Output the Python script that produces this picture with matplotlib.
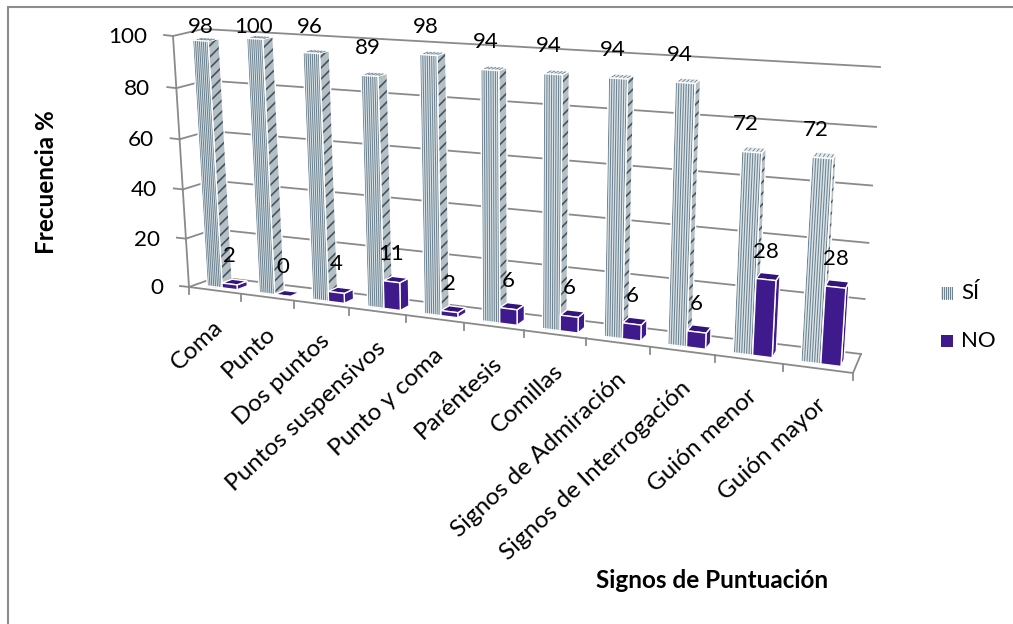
import numpy as np
import matplotlib
matplotlib.use("Agg")
import matplotlib.pyplot as plt
from matplotlib.patches import Polygon, Rectangle

categories = ["Coma", "Punto", "Dos puntos", "Puntos suspensivos", "Punto y coma",
              "Paréntesis", "Comillas", "Signos de Admiración",
              "Signos de Interrogación", "Guión menor", "Guión mayor"]
si_values = [98, 100, 96, 89, 98, 94, 94, 94, 94, 72, 72]
no_values = [2, 0, 4, 11, 2, 6, 6, 6, 6, 28, 28]
y_ticks = [0, 20, 40, 60, 80, 100]
x_title = "Signos de Puntuación"
y_title = "Frecuencia %"
series_names = ["SÍ", "NO"]

W, H = 1013, 624
plt.rcParams['font.family'] = ['Lato', 'DejaVu Sans']
plt.rcParams['hatch.linewidth'] = 1.2
fig = plt.figure(figsize=(W / 100, H / 100), dpi=100)
ax = fig.add_axes([0, 0, 1, 1])
ax.set_xlim(0, W)
ax.set_ylim(H, 0)
ax.axis('off')


def homography(pts):
    src = [(0, 0), (1, 0), (1, 1), (0, 1)]
    A, b = [], []
    for (s, t), (x, y) in zip(src, pts):
        A.append([s, t, 1, 0, 0, 0, -s * x, -t * x]); b.append(x)
        A.append([0, 0, 0, s, t, 1, -s * y, -t * y]); b.append(y)
    h = np.linalg.solve(np.array(A, float), np.array(b, float))
    return np.append(h, 1).reshape(3, 3)


# plot box corners: (left/right, bottom/top) for front and back planes
FRONT = homography([(189, 287), (853, 373), (872, 80), (173, 36)])
BACK = homography([(217, 277), (861, 354), (880, 67), (203, 29)])
N = len(categories)


def proj(u, v, d):
    p = np.array([u / N, v / 100.0, 1.0])
    a = FRONT @ p
    b = BACK @ p
    a = a[:2] / a[2]
    b = b[:2] / b[2]
    return tuple((1 - d) * a + d * b)


GRID = '#8a8a8a'
# outer frame (left and top edges only are visible in the picture)
ax.plot([8, 8, W], [H, 7, 7], color='#8c8c8c', lw=1.5, zorder=1, solid_joinstyle='miter')
# walls and gridlines
for t in y_ticks:
    ax.plot(*zip(proj(0, t, 0), proj(0, t, 1), proj(N, t, 1)), color=GRID, lw=1.3, zorder=1,
            solid_joinstyle='miter')
    x0, y0 = proj(0, t, 0)
    ax.plot([x0 - 9, x0], [y0 - 1, y0], color=GRID, lw=1.3, zorder=1)
    ax.text(x0 - 26, y0 + 1, str(t), ha='right', va='center', fontsize=16.2, color='black')
ax.plot(*zip(proj(0, 0, 0), proj(0, 100, 0)), color=GRID, lw=1.3, zorder=1)
# floor
ax.plot(*zip(proj(0, 0, 0), proj(N, 0, 0), proj(N, 0, 1)), color=GRID, lw=1.3, zorder=1)
for i in range(N + 1):
    x0, y0 = proj(i, 0, 0)
    ax.plot([x0, x0], [y0, y0 + 7], color=GRID, lw=1.3, zorder=1)
for i, c in enumerate(categories):
    x0, y0 = proj(i + 0.5, 0, 0)
    ax.text(x0 - 2, y0 + 26, c, rotation=43, rotation_mode='anchor', ha='right', va='top',
            fontsize=17.5, color='black')

OFF, BW = 0.22, 0.29
D0, D1 = 0.25, 0.62
SI_LIGHT, SI_DARK = '#dbe5e9', '#6d8290'
NO_COL, NO_TOP = '#3f1a8c', '#32147a'
z = 5


def poly(pts, **kw):
    global z
    z += 1
    p = Polygon(pts, closed=True, zorder=z, **kw)
    ax.add_patch(p)
    return p


def bar(u0, v, striped):
    global z
    u1 = u0 + BW
    side = [proj(u1, 0, D0), proj(u1, 0, D1), proj(u1, v, D1), proj(u1, v, D0)]
    top = [proj(u0, v, D0), proj(u1, v, D0), proj(u1, v, D1), proj(u0, v, D1)]
    front = [proj(u0, 0, D0), proj(u1, 0, D0), proj(u1, v, D0), proj(u0, v, D0)]
    if striped:
        poly(side, fc='#b5bfc4', ec='#3f5564', hatch='///', lw=0)
        poly(side, fc='none', ec='white', lw=1)
        poly(top, fc='#e4eaed', ec='white', lw=0.8)
        poly(front, fc=SI_LIGHT, ec='none')
        z += 1
        for s in np.linspace(0.06, 0.94, 8):
            ax.plot(*zip(proj(u0 + s * BW, 0, D0), proj(u0 + s * BW, v, D0)),
                    color=SI_DARK, lw=0.75, zorder=z)
        for s in np.linspace(0.1, 0.9, 5):
            ax.plot(*zip(proj(u0 + s * BW, v, D0 + 0.1), proj(u0 + s * BW, v, D1 - 0.1)),
                    color=SI_DARK, lw=0.6, zorder=z)
        poly(front, fc='none', ec='white', lw=1)
    else:
        poly(side, fc=NO_COL, ec='white', lw=1)
        poly(top, fc=NO_TOP, ec='white', lw=1)
        poly(front, fc=NO_COL, ec='white', lw=1)


def label(u, v, text, dx):
    x, y = proj(u, v, D0)
    ax.text(x + dx, max(y - 28, 27), text, ha='center', va='center', fontsize=16,
            color='black', zorder=200)


for i in range(N):
    bar(i + OFF, si_values[i], True)
    bar(i + OFF + BW, no_values[i], False)
for i in range(N):
    label(i + OFF + BW / 2, si_values[i], str(si_values[i]), -0.7 * i)
    label(i + OFF + 1.5 * BW, no_values[i], str(no_values[i]), 0)

# legend
for yy, name, col in zip((293, 341), series_names, (SI_LIGHT, NO_COL)):
    ax.add_patch(Rectangle((941, yy - 6), 12, 12, fc=col, ec='none', zorder=3))
    if name == series_names[0]:
        for xx in np.arange(942, 953, 2):
            ax.plot([xx, xx], [yy - 6, yy + 6], color=SI_DARK, lw=0.7, zorder=4)
    ax.text(961, yy, name, ha='left', va='center', fontsize=16, color='black')

ax.text(46, 182, y_title, rotation=90, ha='center', va='center', fontsize=17.5, fontweight='bold')
ax.text(712, 581, x_title, ha='center', va='center', fontsize=17.5, fontweight='bold')

fig.savefig('out.png', dpi=100)
